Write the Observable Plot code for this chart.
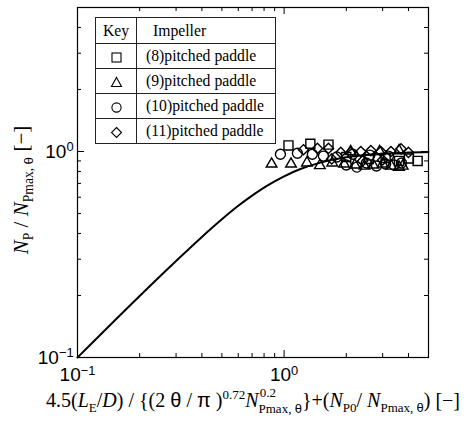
<!DOCTYPE html>
<html><head><meta charset="utf-8">
<script src="https://cdn.jsdelivr.net/npm/d3@7"></script>
<script src="https://cdn.jsdelivr.net/npm/@observablehq/plot@0.6"></script>
<style>
body{margin:0;background:#fff;}
#fig{position:relative;width:466px;height:423px;font-family:"Liberation Serif","Times New Roman",serif;color:#000;}
#fig svg{position:absolute;left:0;top:0;}
#legend{position:absolute;left:95px;top:17px;border-collapse:collapse;font-size:15.7px;background:#fff;table-layout:fixed;width:180px;}
#legend td{border:1px solid #222;padding:0;height:25px;line-height:20px;box-sizing:border-box;white-space:nowrap;}
#legend td.k{width:41px;text-align:center;}
#legend td.n{width:139px;padding-left:9px;}
#legend td.h{padding-left:16px;}
#legend svg{position:static;vertical-align:middle;}
.xt{position:absolute;top:389px;left:46px;font-size:20px;white-space:nowrap;}
.yt{position:absolute;left:21px;top:190px;font-size:21px;white-space:nowrap;transform:translate(-50%,-50%) rotate(-90deg);}
sub,sup{font-size:0.65em;line-height:0;}
.st{position:relative;display:inline-block;font-size:0.65em;white-space:nowrap;line-height:1;}
.up{position:absolute;left:0.1em;top:-0.75em;}
.dn{position:relative;top:0.45em;}
.sf{font-family:"Liberation Sans",Arial,sans-serif;}
</style></head><body><div id="fig"></div><script>
// ---- data ----
const curveX = [0.1,0.2,0.3,0.4,0.5,0.6,0.7,0.8,0.9,1.0,1.2,1.5,2,2.5,3,4,5];
const curveY = [0.1,0.199,0.294,0.385,0.469,0.545,0.611,0.668,0.716,0.758,0.822,0.883,0.937,0.961,0.976,0.988,0.993];

const squareX = [1.05,1.34,1.64,2.0,2.57,3.1,3.6,4.02,4.43];
const squareY = [1.07,1.09,1.08,0.94,0.92,0.93,0.90,0.925,0.90];

const triangleX = [0.87,1.08,1.29,1.49,1.71,1.95,2.2,2.45,2.7,3.0,3.3,3.6,3.75,2.1,2.9,3.6];
const triangleY = [0.87,0.87,0.88,0.855,0.88,0.87,0.86,0.85,0.86,0.87,0.85,0.84,0.85,1.0,1.0,1.01];

const circleX = [0.96,1.16,1.37,1.55,1.8,2.0,2.25,2.5,2.8,3.1,3.4,3.7,2.15,2.6,3.2];
const circleY = [0.97,0.98,0.97,0.95,0.94,0.86,0.84,0.88,0.85,0.87,0.86,0.88,0.97,0.96,0.95];

const diamondX = [1.24,1.45,1.64,1.88,2.1,2.35,2.63,2.94,3.29,3.68,4.0,1.7,2.4,3.0];
const diamondY = [1.02,1.035,1.035,0.99,0.99,1.0,1.01,1.0,1.0,1.03,0.99,0.92,0.9,0.91];

const keyLabels = ["(8)pitched paddle","(9)pitched paddle","(10)pitched paddle","(11)pitched paddle"];
const majorTicks = [0.1, 1];
const minorTicks = [0.2,0.3,0.4,0.5,0.6,0.7,0.8,0.9,2,3,4,5];
// --------------------------------------

const W=466,H=423,mL=77,mR=38,mT=7,mB=66;
const pw=W-mL-mR, ph=H-mT-mB;
const pts=(xs,ys)=>xs.map((x,i)=>({x,y:ys[i]}));
const curve=pts(curveX,curveY);
const sw=1.4;
const svg = Plot.plot({
  width:W,height:H,marginLeft:mL,marginRight:mR,marginTop:mT,marginBottom:mB,
  style:{background:"transparent",overflow:"visible"},
  x:{type:"log",domain:[0.1,5]},
  y:{type:"log",domain:[0.1,5]},
  marks:[
    Plot.line(curve,{x:"x",y:"y",stroke:"black",strokeWidth:2,curve:"monotone-x"}),
    Plot.dot(pts(squareX,squareY),{x:"x",y:"y",symbol:"square",r:5.1,stroke:"black",strokeWidth:sw,fill:"none"}),
    Plot.dot(pts(triangleX,triangleY),{x:"x",y:"y",symbol:"triangle2",r:5.1,stroke:"black",strokeWidth:sw,fill:"none"}),
    Plot.dot(pts(circleX,circleY),{x:"x",y:"y",symbol:"circle",r:5,stroke:"black",strokeWidth:sw,fill:"none"}),
    Plot.dot(pts(diamondX,diamondY),{x:"x",y:"y",symbol:"diamond2",r:4.6,stroke:"black",strokeWidth:sw,fill:"none"}),
    Plot.ruleX(majorTicks,{x:d=>d,insetTop:ph-7,stroke:"black"}),
    Plot.ruleX(minorTicks,{x:d=>d,insetTop:ph-4,stroke:"black"}),
    Plot.ruleX(majorTicks,{x:d=>d,insetBottom:ph-7,stroke:"black"}),
    Plot.ruleX(minorTicks,{x:d=>d,insetBottom:ph-4,stroke:"black"}),
    Plot.ruleY(majorTicks,{y:d=>d,insetRight:pw-7,stroke:"black"}),
    Plot.ruleY(minorTicks,{y:d=>d,insetRight:pw-4,stroke:"black"}),
    Plot.ruleY(majorTicks,{y:d=>d,insetLeft:pw-7,stroke:"black"}),
    Plot.ruleY(minorTicks,{y:d=>d,insetLeft:pw-4,stroke:"black"}),
    Plot.frame({stroke:"black",strokeWidth:1.2}),
    Plot.axisX(majorTicks,{tickSize:0,tickPadding:10,fontSize:19,fontFamily:"Liberation Sans, Arial, sans-serif",tickFormat:d=>String(Math.round(Math.log10(d))),label:null}),
    Plot.axisY(majorTicks,{tickSize:0,tickPadding:2,fontSize:19,fontFamily:"Liberation Sans, Arial, sans-serif",tickFormat:d=>String(Math.round(Math.log10(d))),label:null})
  ]
});
svg.querySelectorAll('g[aria-label="x-axis tick label"] text, g[aria-label="y-axis tick label"] text').forEach(t=>{
  const e=t.textContent.replace("-","−");
  t.innerHTML='10<tspan dy="-0.5em" font-size="0.68em">'+e+'</tspan>';
});
svg.querySelectorAll('g[aria-label="y-axis tick label"] text').forEach(t=>{
  t.setAttribute("dx","-0.1em");
});
const fig=document.getElementById("fig");
fig.appendChild(svg);

// legend (key table)
const sym={
  square:'<rect x="2" y="2" width="9" height="9" fill="none" stroke="#000" stroke-width="1.1"/>',
  triangle:'<polygon points="6.5,1.5 11.5,10.5 1.5,10.5" fill="none" stroke="#000" stroke-width="1.1"/>',
  circle:'<circle cx="6.5" cy="6.5" r="4.6" fill="none" stroke="#000" stroke-width="1.1"/>',
  diamond:'<polygon points="6.5,1.5 11.5,6.5 6.5,11.5 1.5,6.5" fill="none" stroke="#000" stroke-width="1.1"/>'
};
const keys=["square","triangle","circle","diamond"];
let html='<table id="legend"><tr><td class="k" style="height:26px">Key</td><td class="n h">Impeller</td></tr>';
keyLabels.forEach((l,i)=>{
  html+='<tr><td class="k"><svg width="13" height="13">'+sym[keys[i]]+'</svg></td><td class="n">'+l+'</td></tr>';
});
html+='</table>';
const lg=document.createElement("div");lg.innerHTML=html;fig.appendChild(lg.firstChild);

// axis titles
const xt=document.createElement("div");xt.className="xt";
xt.innerHTML='4.5(<i>L</i><sub>E</sub>/<i>D</i>) / {(2 <span class="sf">θ</span> / <span class="sf">π</span> )<sup>0.72</sup><i>N</i><span class="st"><span class="up">0.2</span><span class="dn">Pmax, <span class="sf">θ</span></span></span>}+(<i>N</i><sub>P0</sub>/ <i>N</i><sub>Pmax, <span class="sf">θ</span></sub>) [−]';
fig.appendChild(xt);
const yt=document.createElement("div");yt.className="yt";
yt.innerHTML='<i>N</i><sub>P</sub> / <i>N</i><sub>Pmax, <span class="sf">θ</span></sub> [−]';
fig.appendChild(yt);
</script></body></html>
